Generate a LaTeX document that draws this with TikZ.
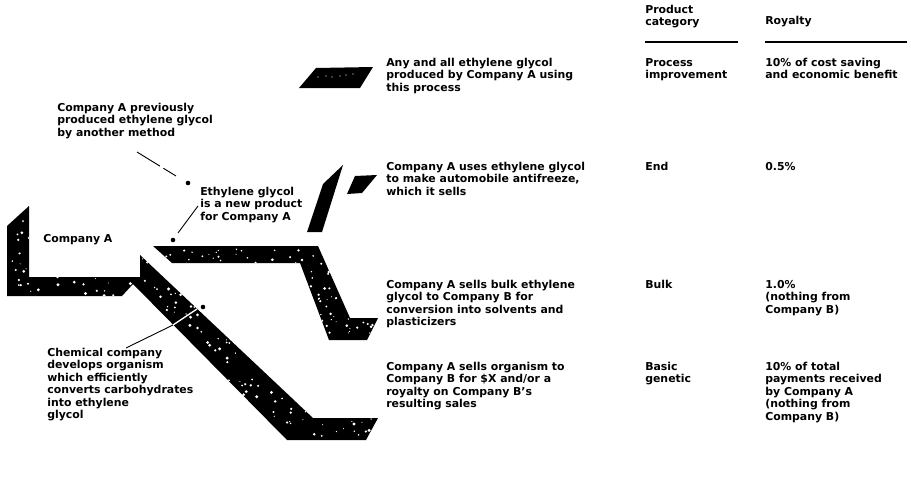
\documentclass[tikz,border=0pt]{standalone}
\usepackage{fontspec}
\setmainfont{DejaVu Sans}
\usetikzlibrary{arrows,positioning}

\begin{document}
\begin{tikzpicture}[x=1pt,y=-1pt,semithick,
                    lbl/.style={anchor=north west,align=left,inner sep=0pt,
                                font=\fontsize{10.9}{12.4}\selectfont\bfseries},
                    band/.style={fill=black},
                    speck/.style={fill=white},
                    leader/.style={line width=0.9pt},
                    rule/.style={line width=1.3pt}]

	\useasboundingbox (0,0) rectangle (911,477);

	% Company A bracket running into the organism band
	\begin{scope}
		\clip (29,206) -- (7,226) -- (7,296) -- (122,296) -- (133,284) -- (287,440)
		      -- (366,440) -- (378,418) -- (313,418) -- (140,255) -- (140,277) -- (29,277) -- cycle;
		\fill[band] (0,190) rectangle (390,450);
		\pgfmathsetseed{11}
		\foreach \i in {1,...,700} {
			\pgfmathsetmacro\px{10+365*rnd}
			\pgfmathsetmacro\py{210+226*rnd}
			\pgfmathsetmacro\pr{0.5+1.2*rnd}
			\fill[speck] (\px,\py) circle (\pr pt);
		}
	\end{scope}

	% bulk branch
	\begin{scope}
		\clip (153,246) -- (318,246) -- (350,318) -- (378,318) -- (367,340)
		      -- (329,340) -- (300,263) -- (172,263) -- cycle;
		\fill[band] (150,240) rectangle (380,345);
		\pgfmathsetseed{5}
		\foreach \i in {1,...,300} {
			\pgfmathsetmacro\px{156+219*rnd}
			\pgfmathsetmacro\py{249+88*rnd}
			\pgfmathsetmacro\pr{0.5+1.0*rnd}
			\fill[speck] (\px,\py) circle (\pr pt);
		}
	\end{scope}

	% process and end pieces
	\fill[band] (299,88) -- (316,68) -- (373,67) -- (360,88) -- cycle;
	\foreach \sx/\sy in {318/77,326/76,332/77,340/76,346/75,353/74}
		\fill[speck] (\sx,\sy) circle (0.7pt);
	\fill[band] (343,165) -- (322,232) -- (307,232) -- (323,184) -- cycle;
	\fill[band] (355,176) -- (377,175) -- (362,193) -- (347,194) -- cycle;

	\coordinate (cutA) at (173,325);
	\coordinate (cutB) at (197,309);
	\draw[white,line width=1.3pt] (cutA) -- (cutB);

	% dots and leaders
	\coordinate (dprev) at (188,183);
	\coordinate (dnew)  at (173,240);
	\coordinate (dchem) at (203,307);
	\foreach \d in {dprev,dnew,dchem}
		\fill (\d) circle (2.3pt);

	\coordinate (pstart) at (137,152);
	\coordinate (pend)   at (176,176);
	\coordinate (nstart) at (198,206);
	\coordinate (nend)   at (178,233);
	\coordinate (cend)   at (126,348);

	\path[leader] (pstart) edge[dash pattern=on 27pt off 4pt] (pend);
	\path[leader] (nstart) edge (nend);
	\path[leader] (cutA) edge (cend);

	% left notes
	\node[lbl] (prev) at (57,103)  {Company A previously\\produced ethylene glycol\\by another method};
	\node[lbl] (newp) at (200,187) {Ethylene glycol\\is a new product\\for Company A};
	\node[lbl] (coA)  at (43,234)  {Company A};
	\node[lbl] (chem) at (47,348)  {Chemical company\\develops organism\\which efficiently\\converts carbohydrates\\into ethylene\\glycol};

	% table heads
	\node[lbl] (hcat) at (645,5)  {Product\\category};
	\node[lbl] (hroy) at (765,16) {Royalty};
	\draw[rule] (645,42) -- (738,42);
	\draw[rule] (765,42) -- (907,42);

	% rows
	\node[lbl] (use1) at (386,58)  {Any and all ethylene glycol\\produced by Company A using\\this process};
	\node[lbl] (cat1) at (645,58)  {Process\\improvement};
	\node[lbl] (roy1) at (765,58)  {10\% of cost saving\\and economic benefit};

	\node[lbl] (use2) at (386,162) {Company A uses ethylene glycol\\to make automobile antifreeze,\\which it sells};
	\node[lbl] (cat2) at (645,162) {End};
	\node[lbl] (roy2) at (765,162) {0.5\%};

	\node[lbl] (use3) at (386,280) {Company A sells bulk ethylene\\glycol to Company B for\\conversion into solvents and\\plasticizers};
	\node[lbl] (cat3) at (645,280) {Bulk};
	\node[lbl] (roy3) at (765,280) {1.0\%\\(nothing from\\Company B)};

	\node[lbl] (use4) at (386,362) {Company A sells organism to\\Company B for \$X and/or a\\royalty on Company B's\\resulting sales};
	\node[lbl] (cat4) at (645,362) {Basic\\genetic};
	\node[lbl] (roy4) at (765,362) {10\% of total\\payments received\\by Company A\\(nothing from\\Company B)};

\end{tikzpicture}
\end{document}
